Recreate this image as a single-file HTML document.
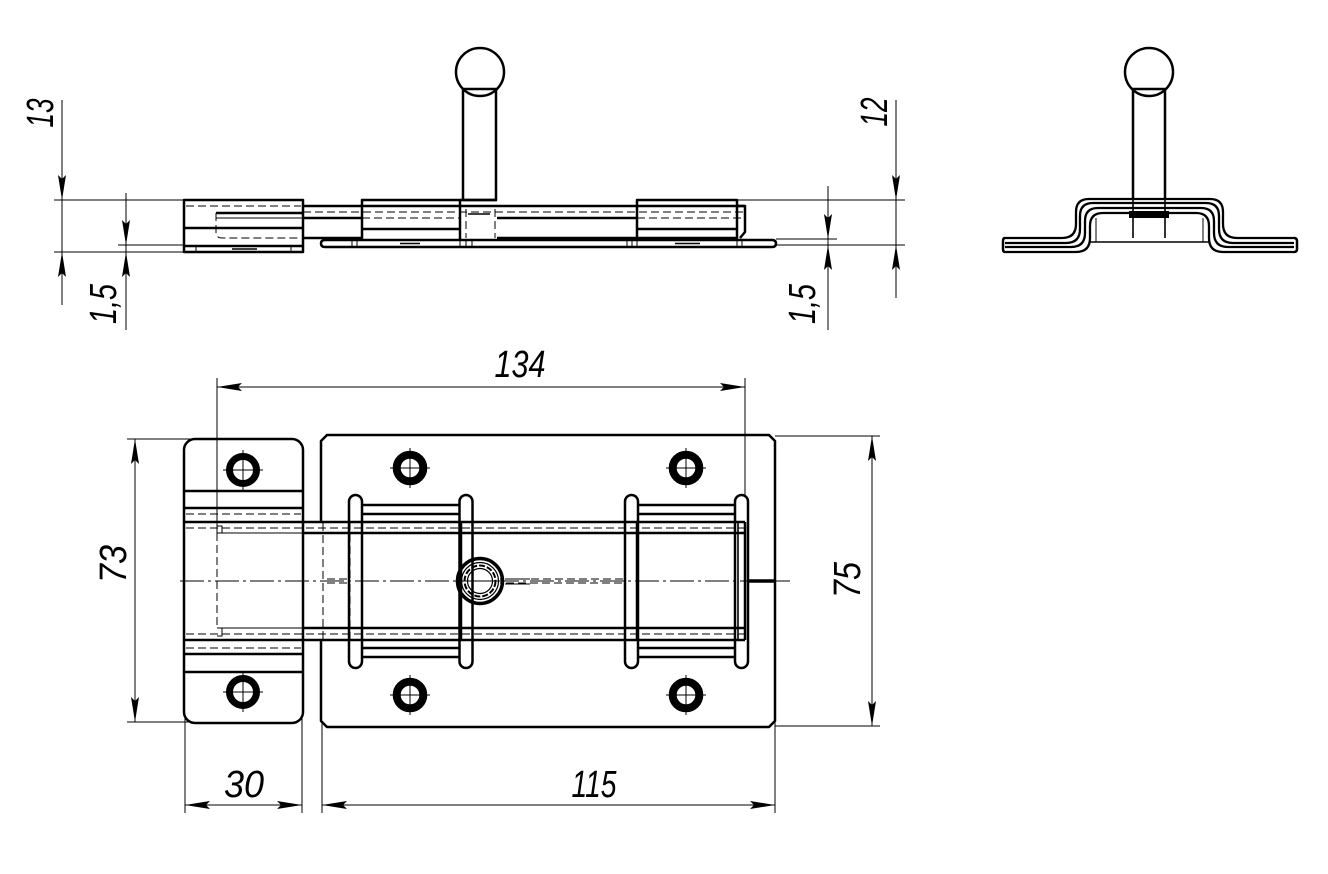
<!DOCTYPE html>
<html>
<head>
<meta charset="utf-8">
<style>
  html,body{margin:0;padding:0;background:#fff;}
  svg{display:block;}
  .t{stroke:#000;stroke-width:2.5;fill:none;stroke-linejoin:round}
  .m{stroke:#000;stroke-width:1.6;fill:none}
  .n{stroke:#000;stroke-width:1;fill:none}
  .d{stroke:#000;stroke-width:1;fill:none;stroke-dasharray:8 4}
  .c{stroke:#000;stroke-width:1;fill:none;stroke-dasharray:24 4 3 4}
  text{font-family:"Liberation Sans",sans-serif;font-style:italic;font-size:38px;fill:#000}
</style>
</head>
<body>
<svg width="1328" height="874" viewBox="0 0 1328 874" xmlns="http://www.w3.org/2000/svg">
<defs>
  <path id="a" d="M0,0 L-25,-4 L-21,0 L-25,4 Z" fill="#000"/>
</defs>

<!-- ================= SIDE VIEW ================= -->
<rect class="t" x="184" y="200" width="119" height="52"/>
<line class="d" x1="186" y1="206" x2="301" y2="206"/>
<line class="t" x1="216" y1="213" x2="303" y2="213"/>
<line class="n" x1="216" y1="218" x2="303" y2="218"/>
<line class="t" x1="184" y1="228" x2="303" y2="228"/>
<path class="d" d="M216,213 V232 Q216,238 222,238 H301"/>
<line class="t" x1="184" y1="246" x2="303" y2="246"/>
<line class="n" x1="196" y1="246" x2="196" y2="252"/>
<line class="n" x1="291" y1="246" x2="291" y2="252"/>
<line class="m" x1="232" y1="249" x2="257" y2="249"/>

<line class="t" x1="303" y1="206" x2="745" y2="206"/>
<line class="d" x1="303" y1="212" x2="745" y2="212"/>
<line class="t" x1="303" y1="218" x2="362" y2="218"/>
<line class="t" x1="497" y1="218" x2="637" y2="218"/>
<line class="d" x1="362" y1="218" x2="460" y2="218"/>
<line class="d" x1="637" y1="218" x2="745" y2="218"/>
<line class="t" x1="303" y1="238" x2="362" y2="238"/>
<line class="t" x1="497" y1="238" x2="637" y2="238"/>
<path class="t" d="M737,206 H745 V232 L740,238"/>

<path class="t" d="M362,240 V200 H460 V240"/>
<line class="t" x1="362" y1="229" x2="460" y2="229"/>
<rect class="t" x="637" y="200" width="100" height="38"/>
<line class="t" x1="637" y1="229" x2="737" y2="229"/>

<circle class="t" cx="480" cy="72" r="24"/>
<rect class="t" x="463" y="89" width="33" height="111"/>
<line class="t" x1="460" y1="200" x2="497" y2="200"/>
<line class="d" x1="466" y1="209" x2="466" y2="238"/>
<line class="d" x1="495" y1="209" x2="495" y2="238"/>
<line class="m" x1="468" y1="214" x2="490" y2="214"/>

<path class="t" d="M325,240 H772 Q776,240 776,243.5 Q776,247 772,247 H325 Q321,247 321,243.5 Q321,240 325,240 Z"/>
<g class="n">
  <line x1="460" y1="240" x2="460" y2="247"/><line x1="466" y1="240" x2="466" y2="247"/><line x1="472" y1="240" x2="472" y2="247"/>
  <line x1="627" y1="240" x2="627" y2="247"/><line x1="632" y1="240" x2="632" y2="247"/><line x1="637" y1="240" x2="637" y2="247"/>
  <line x1="737" y1="240" x2="737" y2="247"/><line x1="742" y1="240" x2="742" y2="247"/>
  <line x1="352" y1="240" x2="352" y2="247"/><line x1="357" y1="240" x2="357" y2="247"/>
</g>
<line class="m" x1="675" y1="243.5" x2="700" y2="243.5"/>
<line class="m" x1="400" y1="243.5" x2="420" y2="243.5"/>

<g class="n">
  <line x1="62" y1="100" x2="62" y2="305"/>
  <line x1="54" y1="200" x2="184" y2="200"/>
  <line x1="54" y1="252" x2="184" y2="252"/>
  <line x1="126" y1="193" x2="126" y2="330"/>
  <line x1="118" y1="245" x2="184" y2="245"/>
  <line x1="737" y1="200" x2="905" y2="200"/>
  <line x1="776" y1="245" x2="905" y2="245"/>
  <line x1="776" y1="239" x2="837" y2="239"/>
  <line x1="828" y1="186" x2="828" y2="330"/>
  <line x1="896" y1="100" x2="896" y2="298"/>
</g>
<use href="#a" transform="translate(62,200) rotate(90)"/>
<use href="#a" transform="translate(62,252) rotate(-90)"/>
<use href="#a" transform="translate(126,245) rotate(90)"/>
<use href="#a" transform="translate(126,252) rotate(-90)"/>
<use href="#a" transform="translate(828,239) rotate(90)"/>
<use href="#a" transform="translate(828,245) rotate(-90)"/>
<use href="#a" transform="translate(896,200) rotate(90)"/>
<use href="#a" transform="translate(896,245) rotate(-90)"/>

<text transform="translate(53,113) rotate(-90)" text-anchor="middle" textLength="29" lengthAdjust="spacingAndGlyphs">13</text>
<text transform="translate(116,304) rotate(-90)" text-anchor="middle" textLength="40" lengthAdjust="spacingAndGlyphs">1,5</text>
<text transform="translate(887,112) rotate(-90)" text-anchor="middle" textLength="29" lengthAdjust="spacingAndGlyphs">12</text>
<text transform="translate(815,304) rotate(-90)" text-anchor="middle" textLength="40" lengthAdjust="spacingAndGlyphs">1,5</text>

<!-- ================= FRONT VIEW ================= -->
<circle class="t" cx="1149" cy="72" r="24"/>
<path class="t" d="M1133,200 V89 H1165 V200"/>
<line class="m" x1="1133" y1="200" x2="1133" y2="238"/>
<line class="m" x1="1165" y1="200" x2="1165" y2="238"/>
<rect x="1129" y="211" width="40" height="7" fill="#000"/>
<g stroke="#000" stroke-width="2.3" fill="none">
  <path d="M1005,238 H1062 Q1076,238 1076,224 V212 Q1076,199 1089,199 H1210 Q1223,199 1223,212 V224 Q1223,238 1237,238 H1294"/>
  <path d="M1005,243 H1066 Q1080,243 1080,229 V216 Q1080,203 1093,203 H1206 Q1219,203 1219,216 V229 Q1219,243 1233,243 H1294"/>
  <path d="M1005,247 H1071 Q1085,247 1085,233 V221 Q1085,208 1098,208 H1201 Q1214,208 1214,221 V233 Q1214,247 1228,247 H1294"/>
  <path d="M1005,252 H1076 Q1090,252 1090,238 V226 Q1090,213 1103,213 H1196 Q1209,213 1209,226 V238 Q1209,252 1223,252 H1294"/>
  <path d="M1005,238 Q1003,238 1003,241 V249 Q1003,252 1005,252" stroke-width="2.5"/>
  <path d="M1294,238 Q1297,238 1297,241 V249 Q1297,252 1294,252" stroke-width="2.5"/>
</g>
<line class="m" x1="1090" y1="242" x2="1209" y2="242"/>
<line class="n" x1="1096" y1="218" x2="1096" y2="242"/>
<line class="n" x1="1203" y1="218" x2="1203" y2="242"/>

<!-- ================= PLAN VIEW ================= -->
<line class="c" x1="180" y1="581" x2="790" y2="581"/>

<rect class="t" x="184" y="439" width="119" height="284" rx="11"/>
<g class="t">
  <line x1="184" y1="491" x2="303" y2="491"/>
  <line x1="184" y1="508" x2="303" y2="508"/>
  <line x1="184" y1="654" x2="303" y2="654"/>
  <line x1="184" y1="672" x2="303" y2="672"/>
</g>
<line class="d" x1="186" y1="514" x2="301" y2="514"/>
<line class="d" x1="186" y1="648" x2="301" y2="648"/>

<line class="t" x1="184" y1="522" x2="745" y2="522"/>
<line class="t" x1="184" y1="640" x2="745" y2="640"/>
<line class="t" x1="303" y1="533" x2="745" y2="533"/>
<line class="t" x1="303" y1="628" x2="745" y2="628"/>
<line class="n" x1="217" y1="533" x2="303" y2="533"/>
<line class="n" x1="217" y1="628" x2="303" y2="628"/>
<line class="d" x1="186" y1="528" x2="745" y2="528"/>
<line class="d" x1="186" y1="634" x2="745" y2="634"/>
<line class="d" x1="217" y1="533" x2="217" y2="628"/>
<path class="n" d="M217,523 V533 M217,526 H222 V533 M217,636 H222 V628"/>

<path class="d" d="M323,523 V579 H350 V523 M323,639 V583 H350 V639"/>
<path class="d" d="M472,533 V628 M625,533 V579 H500 M625,628 V583 H500"/>

<path class="t" d="M321,522 V441 L327,435 H769 L775,441 V721 L769,727 H327 L321,721 V640"/>

<g>
  <circle cx="410" cy="468" r="13.3" stroke="#000" stroke-width="8" fill="none"/>
  <circle cx="410" cy="695" r="13.3" stroke="#000" stroke-width="8" fill="none"/>
  <circle cx="686" cy="468" r="13.3" stroke="#000" stroke-width="8" fill="none"/>
  <circle cx="686" cy="695" r="13.3" stroke="#000" stroke-width="8" fill="none"/>
  <circle cx="243" cy="470" r="13.5" stroke="#000" stroke-width="7" fill="none"/>
  <circle cx="243" cy="692" r="13.5" stroke="#000" stroke-width="7" fill="none"/>
</g>
<g class="n">
  <path d="M390,468 H430 M410,448 V488"/>
  <path d="M390,695 H430 M410,675 V715"/>
  <path d="M666,468 H706 M686,448 V488"/>
  <path d="M666,695 H706 M686,675 V715"/>
  <path d="M223,470 H263 M243,450 V490"/>
  <path d="M223,692 H263 M243,672 V712"/>
</g>

<g class="t">
  <line x1="362" y1="505" x2="459" y2="505"/>
  <line x1="362" y1="514" x2="459" y2="514"/>
  <line x1="362" y1="648" x2="459" y2="648"/>
  <line x1="362" y1="657" x2="459" y2="657"/>
  <line x1="638" y1="505" x2="735" y2="505"/>
  <line x1="638" y1="514" x2="735" y2="514"/>
  <line x1="638" y1="648" x2="735" y2="648"/>
  <line x1="638" y1="657" x2="735" y2="657"/>
</g>

<g class="t">
  <rect x="349" y="495" width="13" height="173" rx="6.5"/>
  <rect x="459.5" y="495" width="13" height="173" rx="6.5"/>
  <rect x="625" y="495" width="13" height="173" rx="6.5"/>
  <rect x="735" y="495" width="13" height="173" rx="6.5"/>
</g>
<line class="t" x1="461" y1="522" x2="461" y2="640"/>
<line class="t" x1="637" y1="522" x2="637" y2="640"/>
<line class="m" x1="738" y1="522" x2="738" y2="640"/>
<line class="t" x1="745" y1="522" x2="745" y2="640"/>

<line x1="748" y1="581" x2="775" y2="581" stroke="#000" stroke-width="3.5"/>

<circle cx="480" cy="581" r="22.5" stroke="#000" stroke-width="3.5" fill="none"/>
<circle cx="480" cy="581" r="18.5" stroke="#000" stroke-width="1.2" fill="none"/>
<circle cx="480" cy="581" r="15.5" stroke="#000" stroke-width="2" fill="none" stroke-dasharray="6 2"/>
<circle cx="480" cy="581" r="12.5" stroke="#000" stroke-width="1.2" fill="none"/>
<path class="n" d="M472,569 V593 M472,581 H505 M505,579 H530 M505,584 H530"/>

<g class="n">
  <line x1="217" y1="387" x2="745" y2="387"/>
  <line x1="217" y1="378" x2="217" y2="522"/>
  <line x1="745" y1="378" x2="745" y2="495"/>
  <line x1="135" y1="439" x2="135" y2="722"/>
  <line x1="127" y1="439" x2="190" y2="439"/>
  <line x1="127" y1="722" x2="190" y2="722"/>
  <line x1="872" y1="436" x2="872" y2="726"/>
  <line x1="775" y1="436" x2="880" y2="436"/>
  <line x1="775" y1="726" x2="880" y2="726"/>
  <line x1="185" y1="805" x2="302" y2="805"/>
  <line x1="185" y1="715" x2="185" y2="813"/>
  <line x1="302" y1="715" x2="302" y2="813"/>
  <line x1="322" y1="805" x2="775" y2="805"/>
  <line x1="322" y1="722" x2="322" y2="813"/>
  <line x1="775" y1="722" x2="775" y2="813"/>
</g>
<use href="#a" transform="translate(217,387) rotate(180)"/>
<use href="#a" transform="translate(745,387)"/>
<use href="#a" transform="translate(135,439) rotate(-90)"/>
<use href="#a" transform="translate(135,722) rotate(90)"/>
<use href="#a" transform="translate(872,436) rotate(-90)"/>
<use href="#a" transform="translate(872,726) rotate(90)"/>
<use href="#a" transform="translate(185,805) rotate(180)"/>
<use href="#a" transform="translate(302,805)"/>
<use href="#a" transform="translate(322,805) rotate(180)"/>
<use href="#a" transform="translate(775,805)"/>

<text x="520" y="377" text-anchor="middle" textLength="51" lengthAdjust="spacingAndGlyphs">134</text>
<text x="244" y="797" text-anchor="middle" textLength="40" lengthAdjust="spacingAndGlyphs">30</text>
<text x="594" y="797" text-anchor="middle" textLength="45" lengthAdjust="spacingAndGlyphs">115</text>
<text transform="translate(126,564) rotate(-90)" text-anchor="middle" textLength="38" lengthAdjust="spacingAndGlyphs">73</text>
<text transform="translate(860,580) rotate(-90)" text-anchor="middle" textLength="36" lengthAdjust="spacingAndGlyphs">75</text>
</svg>
</body>
</html>
